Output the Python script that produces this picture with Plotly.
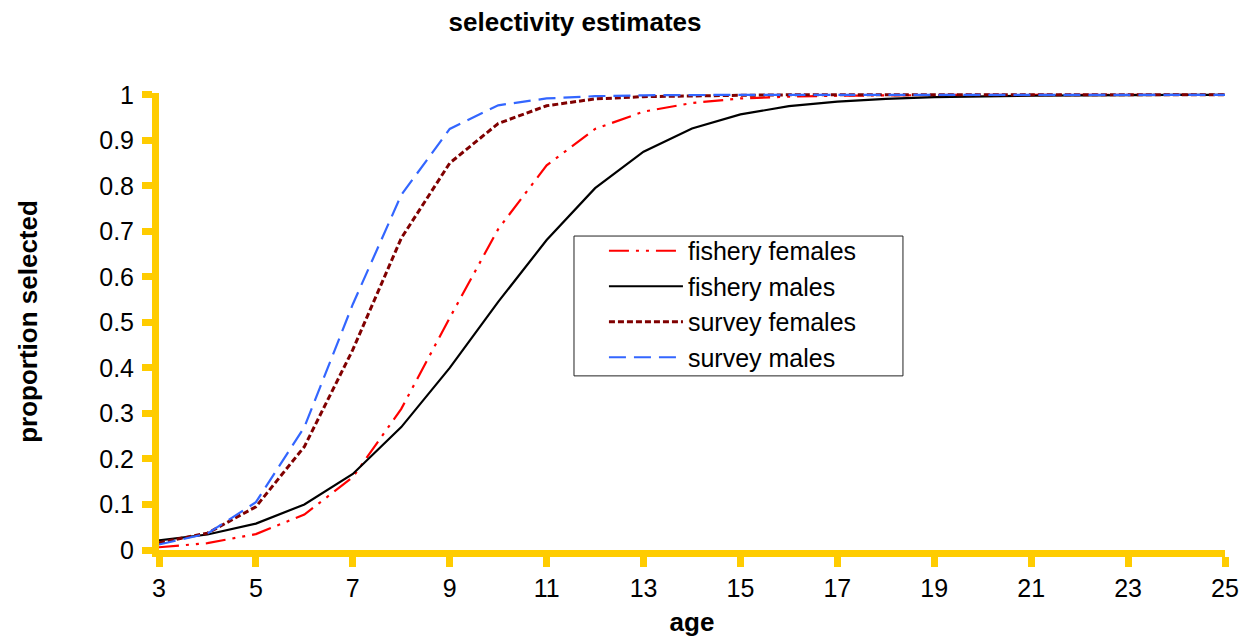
import plotly.graph_objects as go

ages = list(range(3, 26))

fishery_females = [0.006, 0.015, 0.035, 0.078, 0.16, 0.31, 0.51, 0.705, 0.845, 0.925, 0.963, 0.982,
                   0.992, 0.996, 0.998, 0.999, 1.0, 1.0, 1.0, 1.0, 1.0, 1.0, 1.0]
fishery_males = [0.021, 0.034, 0.058, 0.10, 0.167, 0.27, 0.40, 0.545, 0.681, 0.795, 0.875, 0.926,
                 0.957, 0.975, 0.985, 0.991, 0.995, 0.997, 0.998, 0.999, 1.0, 1.0, 1.0]
survey_females = [0.016, 0.037, 0.095, 0.227, 0.44, 0.685, 0.85, 0.937, 0.976, 0.991, 0.996, 0.998,
                  0.999, 1.0, 1.0, 1.0, 1.0, 1.0, 1.0, 1.0, 1.0, 1.0, 1.0]
survey_males = [0.012, 0.036, 0.105, 0.27, 0.54, 0.78, 0.925, 0.977, 0.992, 0.997, 0.999, 1.0,
                1.0, 1.0, 1.0, 1.0, 1.0, 1.0, 1.0, 1.0, 1.0, 1.0, 1.0]

x_ticks = list(range(3, 26, 2))
y_ticks = [0, 0.1, 0.2, 0.3, 0.4, 0.5, 0.6, 0.7, 0.8, 0.9, 1]
y_tick_labels = ["0", "0.1", "0.2", "0.3", "0.4", "0.5", "0.6", "0.7", "0.8", "0.9", "1"]

GOLD = "#FFCC00"
FONT = "Liberation Sans, Arial, sans-serif"

fig = go.Figure()
fig.add_trace(go.Scatter(x=ages, y=fishery_females, mode="lines", name="fishery females",
                         line=dict(color="#FF0000", width=2.2, dash="20px,7px,3px,7px,3px,7px")))
fig.add_trace(go.Scatter(x=ages, y=fishery_males, mode="lines", name="fishery males",
                         line=dict(color="#000000", width=2.2)))
fig.add_trace(go.Scatter(x=ages, y=survey_females, mode="lines", name="survey females",
                         line=dict(color="#800000", width=3, dash="6px,3px")))
fig.add_trace(go.Scatter(x=ages, y=survey_males, mode="lines", name="survey males",
                         line=dict(color="#3366FF", width=2.2, dash="17px,8px")))

# legend frame
fig.add_shape(type="rect", xref="paper", yref="paper", x0=0.3893, x1=0.6979, y0=0.381, y1=0.687,
              line=dict(color="#222222", width=1), fillcolor="white", layer="below")

fig.update_layout(
    width=1249, height=642,
    margin=dict(l=151, r=32, t=85, b=100),
    paper_bgcolor="white", plot_bgcolor="white",
    font=dict(family=FONT, size=25, color="black"),
    title=dict(text="<b>selectivity estimates</b>", x=0.454, xanchor="center", y=0.978, yanchor="middle",
               font=dict(family=FONT, size=26, color="black")),
    showlegend=True,
    legend=dict(x=0.4174, y=0.7046, xanchor="left", yanchor="top",
                bgcolor="rgba(0,0,0,0)", borderwidth=0,
                font=dict(family=FONT, size=25, color="black"),
                itemwidth=74),
    xaxis=dict(range=[3, 25], tickvals=x_ticks, ticktext=[str(v) for v in x_ticks],
               showline=True, linecolor=GOLD, linewidth=7, showgrid=False, zeroline=False,
               ticks="outside", ticklen=10, tickwidth=7, tickcolor=GOLD,
               tickfont=dict(family=FONT, size=25, color="black"),
               title=dict(text="<b>age</b>", font=dict(family=FONT, size=26, color="black"), standoff=14)),
    yaxis=dict(range=[0, 1.004], tickvals=y_ticks, ticktext=y_tick_labels,
               showline=True, linecolor=GOLD, linewidth=7, showgrid=False, zeroline=False,
               ticks="outside", ticklen=10, tickwidth=7, tickcolor=GOLD, ticklabelstandoff=3,
               tickfont=dict(family=FONT, size=25, color="black"),
               title=dict(text="<b>proportion selected</b>", font=dict(family=FONT, size=26, color="black"), standoff=57)),
)

fig.write_html("out.html")
